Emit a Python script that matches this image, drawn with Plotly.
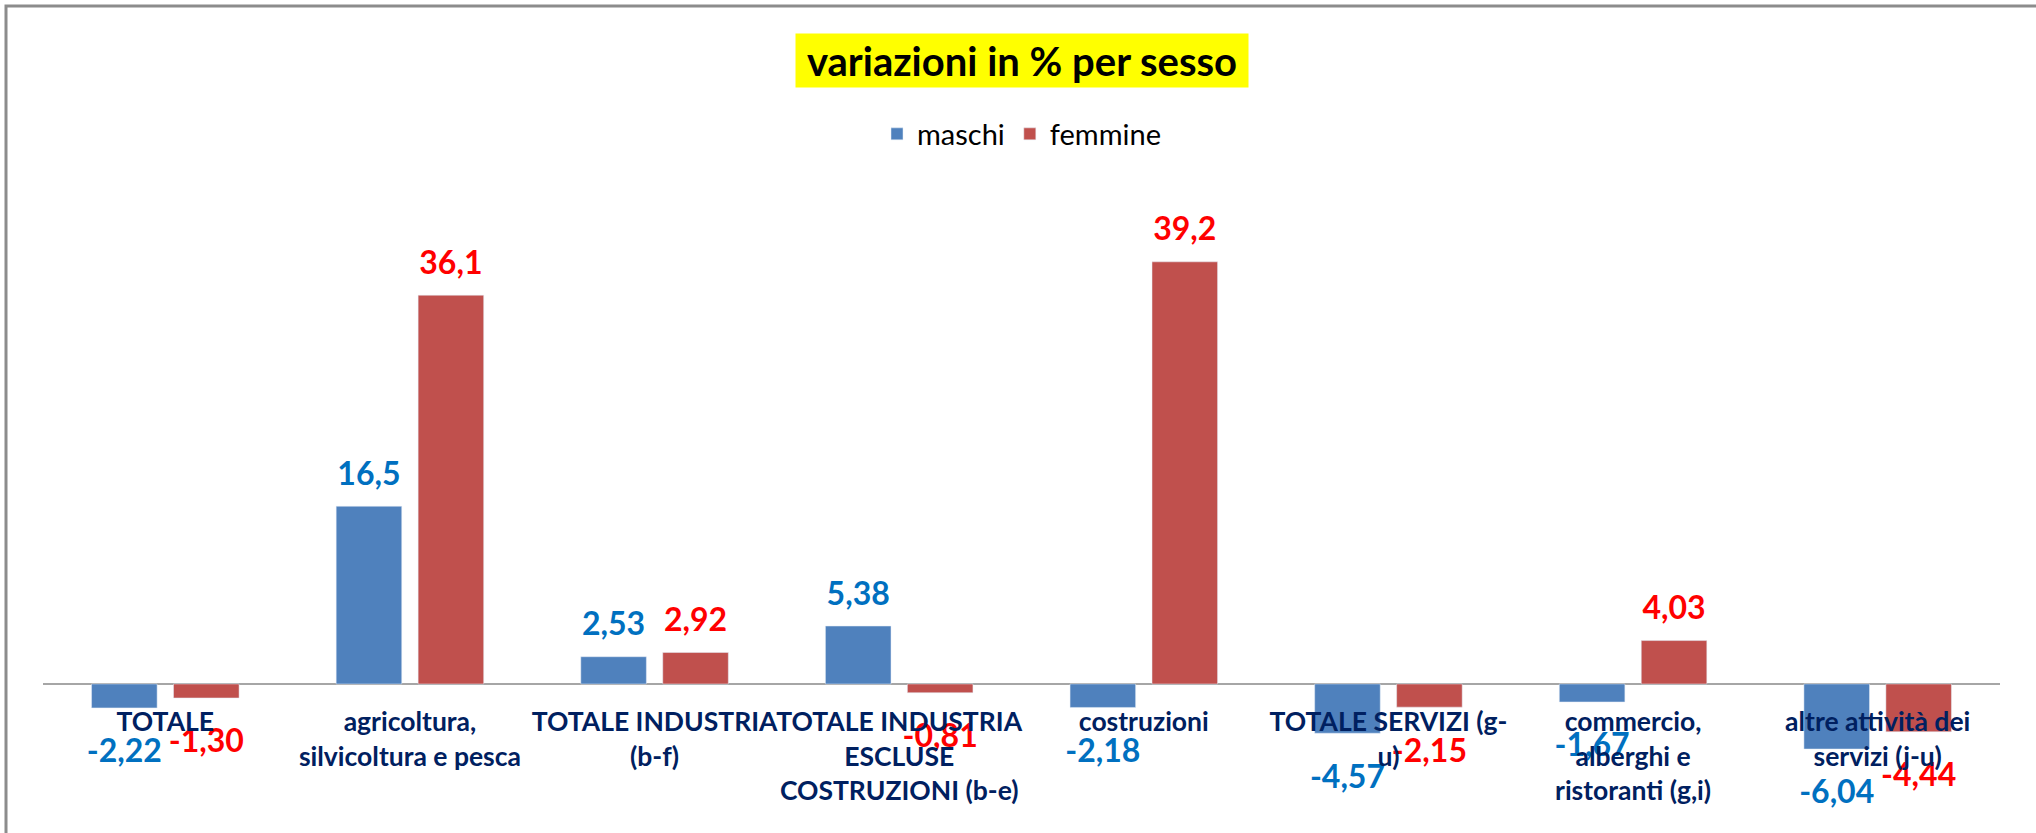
import plotly.graph_objects as go

categories = [
    "TOTALE",
    "agricoltura,<br>silvicoltura e pesca",
    "TOTALE INDUSTRIA<br>(b-f)",
    "TOTALE INDUSTRIA<br>ESCLUSE<br>COSTRUZIONI (b-e)",
    "costruzioni",
    "TOTALE SERVIZI (g-<br>u)",
    "commercio,<br>alberghi e<br>ristoranti (g,i)",
    "altre attività dei<br>servizi (j-u)",
]
maschi = [-2.22, 16.5, 2.53, 5.38, -2.18, -4.57, -1.67, -6.04]
femmine = [-1.30, 36.1, 2.92, -0.81, 39.2, -2.15, 4.03, -4.44]

W, H = 2036, 833
ML, MR, MT, MB = 43, 36, 190, 3
YMIN, YMAX = -13.56, 45.87
LABEL_SIZE = 32


def fmt(v):
    return (f"{v:.1f}" if abs(v) >= 10 else f"{v:.2f}").replace(".", ",")


fig = go.Figure()
fig.add_trace(go.Bar(x=categories, y=maschi, name="maschi", marker_color="#4F81BD",
                     offsetgroup="m", hoverinfo="skip"))
fig.add_trace(go.Bar(x=categories, y=femmine, name="femmine", marker_color="#C0504D",
                     offsetgroup="f", hoverinfo="skip"))

# data labels, placed as grouped text points so they sit over their bars
for vals, grp, col in [(maschi, "m", "#0070C0"), (femmine, "f", "#FF0000")]:
    fig.add_trace(go.Scatter(
        x=categories, y=vals, mode="markers+text",
        text=[fmt(v) for v in vals],
        textposition=["top center" if v >= 0 else "bottom center" for v in vals],
        marker=dict(size=[20 if v >= 0 else 47 for v in vals], opacity=0),
        textfont=dict(family="Lato", size=LABEL_SIZE, color=col, weight=700),
        offsetgroup=grp, cliponaxis=False, showlegend=False, hoverinfo="skip"))

pw = W - ML - MR
ph = H - MT - MB
zero_pos = (0 - YMIN) / (YMAX - YMIN)

fig.update_layout(
    width=W, height=H,
    margin=dict(l=ML, r=MR, t=MT, b=MB, autoexpand=False),
    paper_bgcolor="white", plot_bgcolor="white",
    barmode="group", bargap=0.33, bargroupgap=0.2,
    scattermode="group", scattergap=0.33,
    font=dict(family="Lato", color="black"),
    legend=dict(orientation="h", x=0.5, xanchor="center", y=(H - MB - 134) / ph,
                yanchor="middle", font=dict(size=29, family="Lato", color="black"),
                traceorder="normal"),
    xaxis=dict(anchor="free", position=zero_pos, showgrid=False, showline=False,
               ticks="", ticklabelstandoff=20, tickangle=0, automargin=False,
               tickfont=dict(family="Lato", size=26.5, color="#002060", weight=700)),
    yaxis=dict(range=[YMIN, YMAX], showgrid=False, showticklabels=False, ticks="",
               automargin=False, zeroline=True, zerolinecolor="#A6A6A6", zerolinewidth=2),
    annotations=[dict(text="<b>variazioni in % per sesso</b>", xref="paper", yref="paper",
                      x=0.5, y=(H - MB - 61) / ph, xanchor="center", yanchor="middle",
                      width=452, height=53, showarrow=False, bgcolor="#FFFF00",
                      borderpad=0, font=dict(family="Lato", size=40, color="black"))],
    shapes=[dict(type="rect", xref="paper", yref="paper",
                 x0=(6 - ML) / pw, x1=1.2, y0=-0.2, y1=(H - MB - 6) / ph,
                 line=dict(color="#8C8C8C", width=3), layer="below")],
)

fig.write_html("out.html", config={"displayModeBar": False},
               post_script="document.body.style.margin='0';")
